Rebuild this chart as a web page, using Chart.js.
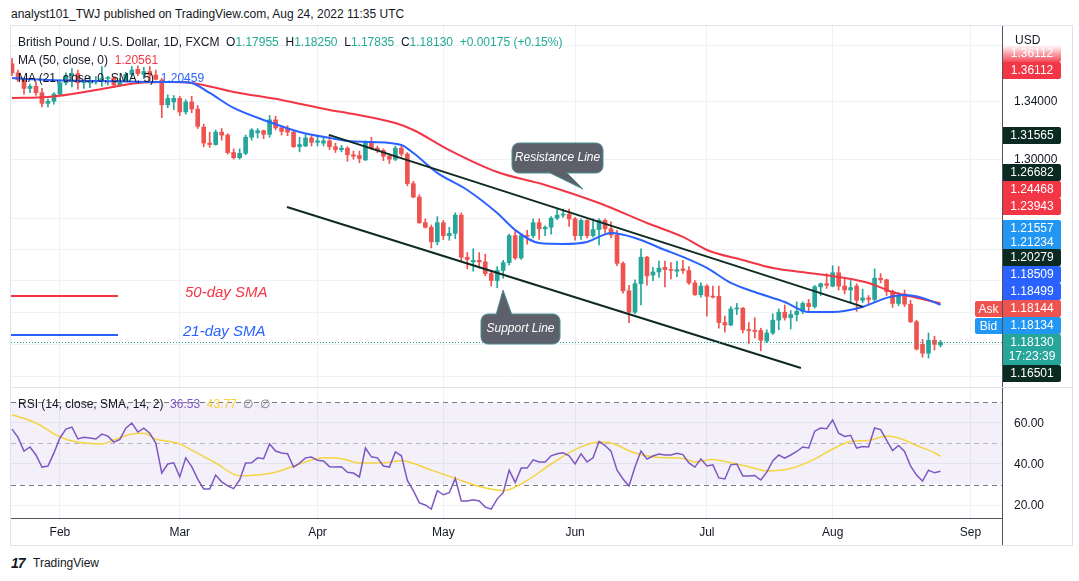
<!DOCTYPE html>
<html>
<head>
<meta charset="utf-8">
<script src="https://cdn.jsdelivr.net/npm/chart.js@4.4.0/dist/chart.umd.min.js"></script>
<style>
body{margin:0;background:#fff;font-family:'Liberation Sans',Arial,sans-serif;color:#131722}
#wrap{position:relative;width:1079px;height:581px;overflow:hidden;background:#fff}
.abs{position:absolute;white-space:nowrap}
canvas{position:absolute}
.badge{position:absolute;left:1003px;width:58px;height:17px;line-height:17px;font-size:12px;color:#fff;text-align:center;border-radius:0 2px 2px 0}
.lg{font-size:12px;color:#131722;line-height:16px}
.up{color:#22ab94}
</style>
</head>
<body>
<div id="wrap">
  <div class="abs" style="left:11px;top:7px;font-size:12px">analyst101_TWJ published on TradingView.com, Aug 24, 2022 11:35 UTC</div>
  <div class="abs" style="left:10px;top:25px;width:1061px;height:519px;border:1px solid #e0e3eb"></div>

  <canvas id="price" width="1061" height="361" style="left:11px;top:26px"></canvas>
  <div class="abs" style="left:11px;top:387px;width:1061px;height:1px;background:#e0e3eb"></div>
  <canvas id="rsi" width="1061" height="157" style="left:11px;top:388px"></canvas>
  <div class="abs" style="left:1002px;top:518px;width:1px;height:27px;background:#50535e"></div>

  <div class="abs lg" style="left:18px;top:34px">British Pound / U.S. Dollar, 1D, FXCM&nbsp;&nbsp;O<span class="up">1.17955</span>&nbsp;&nbsp;H<span class="up">1.18250</span>&nbsp;&nbsp;L<span class="up">1.17835</span>&nbsp;&nbsp;C<span class="up">1.18130</span>&nbsp;&nbsp;<span class="up">+0.00175 (+0.15%)</span></div>
  <div class="abs lg" style="left:18px;top:52px">MA (50, close, 0)&nbsp;&nbsp;<span style="color:#f23645">1.20561</span></div>
  <div class="abs lg" style="left:18px;top:70px">MA (21, close, 0, SMA, 5)&nbsp;&nbsp;<span style="color:#2962ff">1.20459</span></div>
  <div class="abs lg" style="left:18px;top:396px">RSI (14, close, SMA, 14, 2)&nbsp;&nbsp;<span style="color:#7e57c2">36.53</span>&nbsp;&nbsp;<span style="color:#f5d442">43.77</span>&nbsp;&nbsp;<span style="color:#787b86">∅&nbsp;&nbsp;∅</span></div>

  <div class="abs" style="left:1015px;top:33px;font-size:12px">USD</div>
  <div id="axisLabels"></div>
  <div id="badges"></div>
  <div class="abs" style="left:975px;top:301px;width:27px;height:16px;line-height:16px;background:#ef5350;color:#fff;font-size:12px;text-align:center;border-radius:2px 0 0 2px">Ask</div>
  <div class="abs" style="left:975px;top:318px;width:27px;height:16px;line-height:16px;background:#2196f3;color:#fff;font-size:12px;text-align:center;border-radius:2px 0 0 2px">Bid</div>
  <div class="abs" style="left:1003px;top:334px;width:58px;height:30px;background:#26a69a;color:#fff;font-size:12px;text-align:center;line-height:14px;padding-top:1px;border-radius:0 2px 2px 0">1.18130<br>17:23:39</div>

  <div class="abs" style="left:11px;top:555px;font-size:14px;font-weight:bold;letter-spacing:-1px;font-style:italic">17</div>
  <div class="abs" style="left:33px;top:556px;font-size:12px">TradingView</div>
</div>

<script>
// candles, one per trading day, Jan 20 .. Aug 24 2022
const openP=[1.3665,1.3600,1.3550,1.3490,1.3505,1.3460,1.3385,1.3400,1.3450,1.3530,
1.3580,1.3595,1.3530,1.3530,1.3535,1.3545,1.3560,1.3565,1.3515,1.3545,
1.3590,1.3625,1.3590,1.3610,1.3585,1.3550,1.3375,1.3395,1.3420,1.3325,
1.3395,1.3345,1.3220,1.3110,1.3100,1.3185,1.3165,1.3045,1.3010,1.3040,
1.3150,1.3180,1.3195,1.3170,1.3270,1.3215,1.3210,1.3185,1.3085,1.3090,
1.3145,1.3115,1.3110,1.3125,1.3085,1.3065,1.3075,1.3030,1.3025,1.2995,
1.3115,1.3075,1.3060,1.3020,1.3000,1.3075,1.3035,1.2835,1.2745,1.2575,
1.2545,1.2450,1.2575,1.2490,1.2505,1.2625,1.2350,1.2320,1.2330,1.2320,
1.2245,1.2200,1.2265,1.2315,1.2490,1.2345,1.2490,1.2490,1.2575,1.2535,
1.2545,1.2605,1.2625,1.2630,1.2600,1.2490,1.2590,1.2490,1.2530,1.2590,
1.2535,1.2495,1.2310,1.2135,1.2000,1.2180,1.2350,1.2235,1.2255,1.2285,
1.2270,1.2260,1.2275,1.2265,1.2185,1.2110,1.2165,1.2100,1.2100,1.1935,
1.1920,1.2020,1.2025,1.1890,1.1885,1.1885,1.1820,1.1870,1.1950,1.2000,
1.1965,1.1985,1.2005,1.2055,1.2035,1.2160,1.2180,1.2165,1.2250,1.2165,
1.2140,1.2165,1.2075,1.2090,1.2080,1.2215,1.2205,1.2130,1.2055,1.2115,
1.2050,1.1940,1.1800,1.1745,1.1825,1.17955];
const highP=[1.3705,1.3620,1.3560,1.3520,1.3535,1.3490,1.3415,1.3460,1.3550,1.3600,
1.3630,1.3620,1.3545,1.3575,1.3575,1.3645,1.3575,1.3570,1.3560,1.3605,
1.3645,1.3650,1.3640,1.3645,1.3620,1.3560,1.3445,1.3440,1.3435,1.3410,
1.3435,1.3370,1.3240,1.3185,1.3200,1.3210,1.3175,1.3070,1.3070,1.3165,
1.3210,1.3210,1.3200,1.3300,1.3295,1.3225,1.3230,1.3190,1.3150,1.3175,
1.3160,1.3155,1.3145,1.3160,1.3110,1.3095,1.3085,1.3055,1.3055,1.3125,
1.3150,1.3090,1.3070,1.3035,1.3090,1.3090,1.3045,1.2850,1.2760,1.2600,
1.2560,1.2615,1.2590,1.2545,1.2640,1.2640,1.2380,1.2405,1.2380,1.2370,
1.2265,1.2290,1.2330,1.2500,1.2525,1.2500,1.2525,1.2600,1.2600,1.2555,
1.2615,1.2665,1.2665,1.2665,1.2610,1.2600,1.2595,1.2600,1.2600,1.2600,
1.2580,1.2525,1.2320,1.2170,1.2205,1.2405,1.2355,1.2285,1.2325,1.2325,
1.2315,1.2325,1.2330,1.2290,1.2200,1.2185,1.2175,1.2165,1.2165,1.1975,
1.2035,1.2055,1.2030,1.1935,1.1965,1.1900,1.1890,1.1990,1.2020,1.2045,
1.2010,1.2065,1.2065,1.2080,1.2170,1.2185,1.2245,1.2295,1.2290,1.2210,
1.2200,1.2180,1.2145,1.2105,1.2275,1.2245,1.2210,1.2140,1.2125,1.2140,
1.2075,1.1950,1.1830,1.1870,1.1850,1.18250];
const lowP=[1.3580,1.3540,1.3450,1.3460,1.3440,1.3360,1.3360,1.3380,1.3440,1.3515,
1.3500,1.3485,1.3490,1.3495,1.3520,1.3505,1.3515,1.3495,1.3505,1.3535,
1.3570,1.3580,1.3560,1.3535,1.3550,1.3285,1.3355,1.3340,1.3300,1.3310,
1.3320,1.3210,1.3085,1.3080,1.3095,1.3130,1.3035,1.3000,1.3000,1.3030,
1.3130,1.3145,1.3140,1.3150,1.3200,1.3165,1.3160,1.3080,1.3050,1.3085,
1.3090,1.3090,1.3090,1.3065,1.3045,1.3050,1.2985,1.3000,1.2975,1.2990,
1.3065,1.3045,1.2990,1.2970,1.2990,1.3020,1.2820,1.2740,1.2570,1.2540,
1.2410,1.2430,1.2465,1.2460,1.2470,1.2325,1.2275,1.2260,1.2280,1.2230,
1.2165,1.2155,1.2215,1.2300,1.2335,1.2335,1.2435,1.2475,1.2465,1.2490,
1.2500,1.2595,1.2610,1.2550,1.2460,1.2465,1.2475,1.2480,1.2430,1.2510,
1.2475,1.2295,1.2120,1.1935,1.1990,1.2045,1.2170,1.2200,1.2220,1.2160,
1.2210,1.2225,1.2245,1.2175,1.2105,1.2095,1.1975,1.2090,1.1900,1.1875,
1.1915,1.1985,1.1870,1.1805,1.1840,1.1760,1.1810,1.1860,1.1890,1.1950,
1.1895,1.1945,1.1990,1.2010,1.2025,1.2105,1.2150,1.2160,1.2140,1.2115,
1.2060,1.2005,1.2060,1.2050,1.2065,1.2185,1.2105,1.2030,1.2040,1.2035,
1.1935,1.1765,1.1720,1.1715,1.1765,1.17835];
const closeP=[1.3600,1.3550,1.3490,1.3505,1.3460,1.3385,1.3400,1.3450,1.3530,1.3580,
1.3595,1.3530,1.3530,1.3535,1.3545,1.3560,1.3565,1.3515,1.3545,1.3590,
1.3620,1.3595,1.3610,1.3585,1.3555,1.3375,1.3420,1.3420,1.3325,1.3395,
1.3345,1.3225,1.3110,1.3100,1.3185,1.3165,1.3045,1.3010,1.3040,1.3150,
1.3200,1.3195,1.3170,1.3270,1.3215,1.3190,1.3185,1.3085,1.3100,1.3145,
1.3115,1.3125,1.3125,1.3085,1.3065,1.3075,1.3030,1.3020,1.3005,1.3115,
1.3075,1.3060,1.3020,1.3000,1.3075,1.3035,1.2835,1.2745,1.2575,1.2545,
1.2450,1.2575,1.2490,1.2505,1.2625,1.2350,1.2335,1.2330,1.2320,1.2245,
1.2200,1.2265,1.2315,1.2490,1.2345,1.2490,1.2485,1.2575,1.2535,1.2545,
1.2605,1.2625,1.2630,1.2600,1.2490,1.2590,1.2490,1.2530,1.2590,1.2535,
1.2495,1.2310,1.2135,1.2000,1.2180,1.2350,1.2230,1.2255,1.2280,1.2270,
1.2265,1.2270,1.2265,1.2185,1.2110,1.2165,1.2100,1.2095,1.1935,1.1920,
1.2020,1.2025,1.1890,1.1885,1.1880,1.1825,1.1870,1.1950,1.2000,1.1965,
1.1985,1.2005,1.2055,1.2035,1.2160,1.2180,1.2170,1.2250,1.2165,1.2140,
1.2155,1.2075,1.2090,1.2080,1.2215,1.2205,1.2130,1.2055,1.2105,1.2050,
1.1940,1.1770,1.1745,1.1825,1.1800,1.18130];

// moving averages (bar index, price)
const sma50Idx=[0,6,15,21,26,30,37,45,53,56,64,67,73,81,89,98,106,112,116,122,127,133,138,143,147,151,155];
const sma50Val=[1.3423,1.3430,1.3486,1.3529,1.3536,1.3529,1.3465,1.3409,1.3339,1.3318,1.3248,1.3200,1.3062,1.2913,1.2826,1.2705,1.2573,1.2482,1.2397,1.2332,1.2281,1.2249,1.2223,1.2185,1.2127,1.2090,1.2056];
const sma21Idx=[0,6,15,23,28,30,33,37,43,48,54,56,60,65,67,71,76,81,84,88,92,96,100,104,109,112,116,120,124,129,133,137,142,146,149,152,155];
const sma21Val=[1.3564,1.3550,1.3543,1.3536,1.3536,1.3529,1.3458,1.3353,1.3255,1.3186,1.3138,1.3124,1.3117,1.3097,1.3042,1.2907,1.2792,1.2639,1.2527,1.2442,1.2436,1.2449,1.2507,1.2475,1.2397,1.2352,1.2281,1.2185,1.2127,1.2064,1.2001,1.2001,1.2033,1.2090,1.2108,1.2090,1.2046];

// drawn channel lines (bar index, price)
const resistIdx=[52.9,142.1], resistVal=[1.3166,1.2033];
const supportIdx=[45.9,131.7], supportVal=[1.2679,1.1655];

// RSI(14) per bar and its SMA
const rsiVal=[57,53,46.3,48.3,44.4,38.5,39,45.4,52.7,57,
58,52.2,53,52.7,52.2,54.6,53.6,50.7,52,57.5,
60,55.6,57.5,55,50.2,35.6,40,40.6,33.7,43,
38.7,32.6,27.8,27.8,34.6,31.3,29.3,28,32.2,40.5,
40.6,43,42.6,49.8,46.3,45.4,45,38.5,40.4,43,
43.4,41.8,41.5,38.7,38.5,38.7,36,35.6,33.7,47.8,
43.5,43,39,38.5,45.9,44,32,27,21,20,
18,27,25,26,33,22,22,22.5,22,19,
18,23,26,37,31,38,38,42,41,41,
44,45,45.5,44,40,45,41,43,51,49,
46.3,37,32.7,29.3,38.5,46.3,42.4,43.9,44.9,44.4,
44.4,45.2,44.6,40.5,38.5,42.5,39,39.6,33.2,32.7,
39.6,40,34.2,34.2,34.4,32.2,36,41.5,44.4,42.9,
44.4,46.1,48.3,47.8,56,57.5,57.2,61.5,55,53.4,
54,47.8,48.5,48.3,57.6,56.8,51.7,46.5,49,46.1,
39.1,34.6,31.7,37,35.7,36.5];
const rsiMaIdx=[0,4,8,12,15,17,20,22,24,28,30,34,38,41,44,48,52,55,58,62,65,70,74,78,82,86,90,94,98,100,104,108,112,114,117,120,123,126,130,134,137,140,143,146,148,151,154,155];
const rsiMaVal=[64,60,53.2,50.2,49.8,51.7,54.6,55,52.2,49.8,46.8,40.5,34.2,34.6,36,40,43,42.6,40.5,40.5,41.6,37,33,29,27,32,40,47,50.7,50.2,45.4,43.2,42.7,41,42.2,40.6,38.7,36.6,37.8,42.4,47.3,51,51.5,53.6,52.7,49,45.5,43.8];

// axes
const monthIdx=[8,28,51,72,94,116,137,160];
const monthNames=['Feb','Mar','Apr','May','Jun','Jul','Aug','Sep'];
const priceGrid=[1.16,1.18,1.20,1.22,1.24,1.26,1.30,1.34,1.38];
const priceLabels=[1.34,1.30];
const rsiGrid=[20,40,60];
const lastPrice=1.1813;

// price scale badges on the right
const badgeText=['1.36112','1.36112','1.31565','1.26682','1.24468','1.23943','1.21557','1.21234','1.20279','1.18509','1.18499','1.18144','1.18134','1.16501'];
const badgeTop=[45,62,127,164,181,198,220,234,249,266,283,300,317,365];
const badgeColor=['fade','#f23645','#0b2b22','#0b2b22','#f23645','#f23645','#2196f3','#2196f3','#0b2b22','#2962ff','#2962ff','#ef5350','#2196f3','#0b2b22'];

const UP='#26a69a', DOWN='#ef5350', GRID='#eef1f6';
const X_MIN=-0.17, X_MAX=165.27;
const P_MIN=1.15393, P_MAX=1.39379;
const R_MIN=13.66, R_MAX=77.07;

function pts(xs, ys){ return xs.map((x,i)=>({x:x,y:ys[i]})); }
const candleColor = ctx => closeP[ctx.dataIndex] >= openP[ctx.dataIndex] ? UP : DOWN;

function bubble(ctx, x, y, w, h, tail, text){
  ctx.save();
  ctx.beginPath();
  ctx.roundRect(x, y, w, h, 7);
  ctx.fillStyle='#5d606b'; ctx.fill();
  ctx.strokeStyle='#4a8f91'; ctx.lineWidth=1; ctx.stroke();
  ctx.beginPath();
  ctx.moveTo(tail[0][0], tail[0][1]); ctx.lineTo(tail[2][0], tail[2][1]); ctx.lineTo(tail[1][0], tail[1][1]);
  ctx.closePath(); ctx.fill();
  ctx.beginPath();
  ctx.moveTo(tail[0][0], tail[0][1]); ctx.lineTo(tail[2][0], tail[2][1]); ctx.lineTo(tail[1][0], tail[1][1]);
  ctx.stroke();
  ctx.fillStyle='#fff'; ctx.font="italic 12px 'Liberation Sans', Arial"; ctx.textAlign='center'; ctx.textBaseline='middle';
  ctx.fillText(text, x+w/2, y+h/2);
  ctx.restore();
}

const priceOverlay={
  id:'priceOverlay',
  afterDatasetsDraw(chart){
    const ctx=chart.ctx, a=chart.chartArea, ys=chart.scales.y;
    const ox=11, oy=26;
    ctx.save();
    // last price dotted line
    const py=Math.round(ys.getPixelForValue(lastPrice))+0.5;
    ctx.strokeStyle=UP; ctx.lineWidth=1; ctx.setLineDash([1,2]);
    ctx.beginPath(); ctx.moveTo(a.left,py); ctx.lineTo(a.right,py); ctx.stroke();
    ctx.setLineDash([]);
    // SMA legend drawings
    ctx.lineWidth=2;
    ctx.strokeStyle='#f23645'; ctx.beginPath(); ctx.moveTo(11-ox,296-oy); ctx.lineTo(118-ox,296-oy); ctx.stroke();
    ctx.strokeStyle='#2962ff'; ctx.beginPath(); ctx.moveTo(11-ox,335-oy); ctx.lineTo(118-ox,335-oy); ctx.stroke();
    ctx.font="italic 15px 'Liberation Sans', Arial"; ctx.textBaseline='middle';
    ctx.fillStyle='#f23645'; ctx.fillText('50-day SMA',185-ox,293-oy);
    ctx.fillStyle='#2962ff'; ctx.fillText('21-day SMA',183-ox,332-oy);
    ctx.restore();
    bubble(ctx,512-ox,143-oy,91,30,[[548-ox,172-oy],[566-ox,172-oy],[583-ox,189-oy]],'Resistance Line');
    bubble(ctx,481-ox,314-oy,79,30,[[496-ox,315-oy],[512-ox,315-oy],[503-ox,290-oy]],'Support Line');
  }
};

const priceChart=new Chart(document.getElementById('price'),{
  type:'bar',
  data:{datasets:[
    {type:'line',data:pts(resistIdx,resistVal),borderColor:'#0e2a23',borderWidth:2,pointRadius:0},
    {type:'line',data:pts(supportIdx,supportVal),borderColor:'#0e2a23',borderWidth:2,pointRadius:0},
    {type:'line',data:pts(sma21Idx,sma21Val),borderColor:'#2962ff',borderWidth:2,pointRadius:0,cubicInterpolationMode:'monotone'},
    {type:'line',data:pts(sma50Idx,sma50Val),borderColor:'#f23645',borderWidth:2,pointRadius:0,cubicInterpolationMode:'monotone'},
    {data:openP.map((o,i)=>({x:i,y:[o,closeP[i]]})),backgroundColor:candleColor,barThickness:4,minBarLength:1,grouped:false},
    {data:lowP.map((l,i)=>({x:i,y:[l,highP[i]]})),backgroundColor:candleColor,barThickness:1,grouped:false}
  ]},
  options:{
    responsive:false,animation:false,devicePixelRatio:1,
    layout:{padding:0},
    plugins:{legend:{display:false},tooltip:{enabled:false}},
    scales:{
      x:{type:'linear',min:X_MIN,max:X_MAX,bounds:'data',offset:false,
        grid:{color:GRID,drawTicks:false,offset:false},border:{display:false},ticks:{display:false},
        afterBuildTicks:s=>{s.ticks=monthIdx.map(v=>({value:v}));},
        afterFit:s=>{s.height=0;}},
      y:{type:'logarithmic',position:'right',min:P_MIN,max:P_MAX,bounds:'data',
        grid:{color:GRID,drawTicks:false},border:{color:'#50535e'},ticks:{display:false},
        afterBuildTicks:s=>{s.ticks=priceGrid.map(v=>({value:v}));},
        afterFit:s=>{s.width=70;}}
    }
  },
  plugins:[priceOverlay]
});

const rsiBand={
  id:'rsiBand',
  beforeDatasetsDraw(chart){
    const ctx=chart.ctx, a=chart.chartArea, ys=chart.scales.y;
    const y70=ys.getPixelForValue(70), y30=ys.getPixelForValue(30), y50=ys.getPixelForValue(50);
    ctx.save();
    ctx.fillStyle='rgba(126,87,194,0.09)';
    ctx.fillRect(a.left,y70,a.right-a.left,y30-y70);
    ctx.lineWidth=1; ctx.setLineDash([5,4]);
    ctx.strokeStyle='#787b86';
    [y70,y30].forEach(y=>{ctx.beginPath();ctx.moveTo(a.left,Math.round(y)+0.5);ctx.lineTo(a.right,Math.round(y)+0.5);ctx.stroke();});
    ctx.strokeStyle='rgba(120,123,134,0.5)';
    ctx.beginPath();ctx.moveTo(a.left,Math.round(y50)+0.5);ctx.lineTo(a.right,Math.round(y50)+0.5);ctx.stroke();
    ctx.restore();
  }
};

const rsiChart=new Chart(document.getElementById('rsi'),{
  type:'line',
  data:{datasets:[
    {data:rsiVal.map((v,i)=>({x:i,y:v})),borderColor:'#7e57c2',borderWidth:1.5,pointRadius:0},
    {data:pts(rsiMaIdx,rsiMaVal),borderColor:'#f5d442',borderWidth:1.5,pointRadius:0,cubicInterpolationMode:'monotone'}
  ]},
  options:{
    responsive:false,animation:false,devicePixelRatio:1,
    layout:{padding:0},
    plugins:{legend:{display:false},tooltip:{enabled:false}},
    scales:{
      x:{type:'linear',min:X_MIN,max:X_MAX,bounds:'data',
        grid:{color:GRID,drawTicks:false},border:{display:true,color:'#50535e'},
        ticks:{autoSkip:false,maxRotation:0,padding:7,color:'#131722',font:{size:12,family:"'Liberation Sans', Arial"},
          callback:v=>{const k=monthIdx.indexOf(v);return k<0?'':monthNames[k];}},
        afterBuildTicks:s=>{s.ticks=monthIdx.map(v=>({value:v}));},
        afterFit:s=>{s.height=27;}},
      y:{type:'linear',position:'right',min:R_MIN,max:R_MAX,bounds:'data',
        grid:{color:GRID,drawTicks:false},border:{color:'#50535e'},ticks:{display:false},
        afterBuildTicks:s=>{s.ticks=rsiGrid.map(v=>({value:v}));},
        afterFit:s=>{s.width=70;}}
    }
  },
  plugins:[rsiBand]
});

// axis labels placed from the chart scales
const axisBox=document.getElementById('axisLabels');
priceLabels.forEach(v=>{
  const d=document.createElement('div');
  d.className='abs'; d.style.left='1014px'; d.style.fontSize='12px';
  d.style.top=(26+priceChart.scales.y.getPixelForValue(v)-7)+'px';
  d.textContent=v.toFixed(5); axisBox.appendChild(d);
});
rsiGrid.forEach(v=>{
  const d=document.createElement('div');
  d.className='abs'; d.style.left='1014px'; d.style.fontSize='12px';
  d.style.top=(388+rsiChart.scales.y.getPixelForValue(v)-7)+'px';
  d.textContent=v.toFixed(2); axisBox.appendChild(d);
});
const badgeBox=document.getElementById('badges');
badgeText.forEach((t,i)=>{
  const d=document.createElement('div');
  d.className='badge'; d.style.top=badgeTop[i]+'px';
  d.style.background=badgeColor[i]==='fade'?'linear-gradient(to bottom,rgba(242,54,69,0),rgba(242,54,69,0.9))':badgeColor[i];
  d.textContent=t; badgeBox.appendChild(d);
});
</script>
</body>
</html>
